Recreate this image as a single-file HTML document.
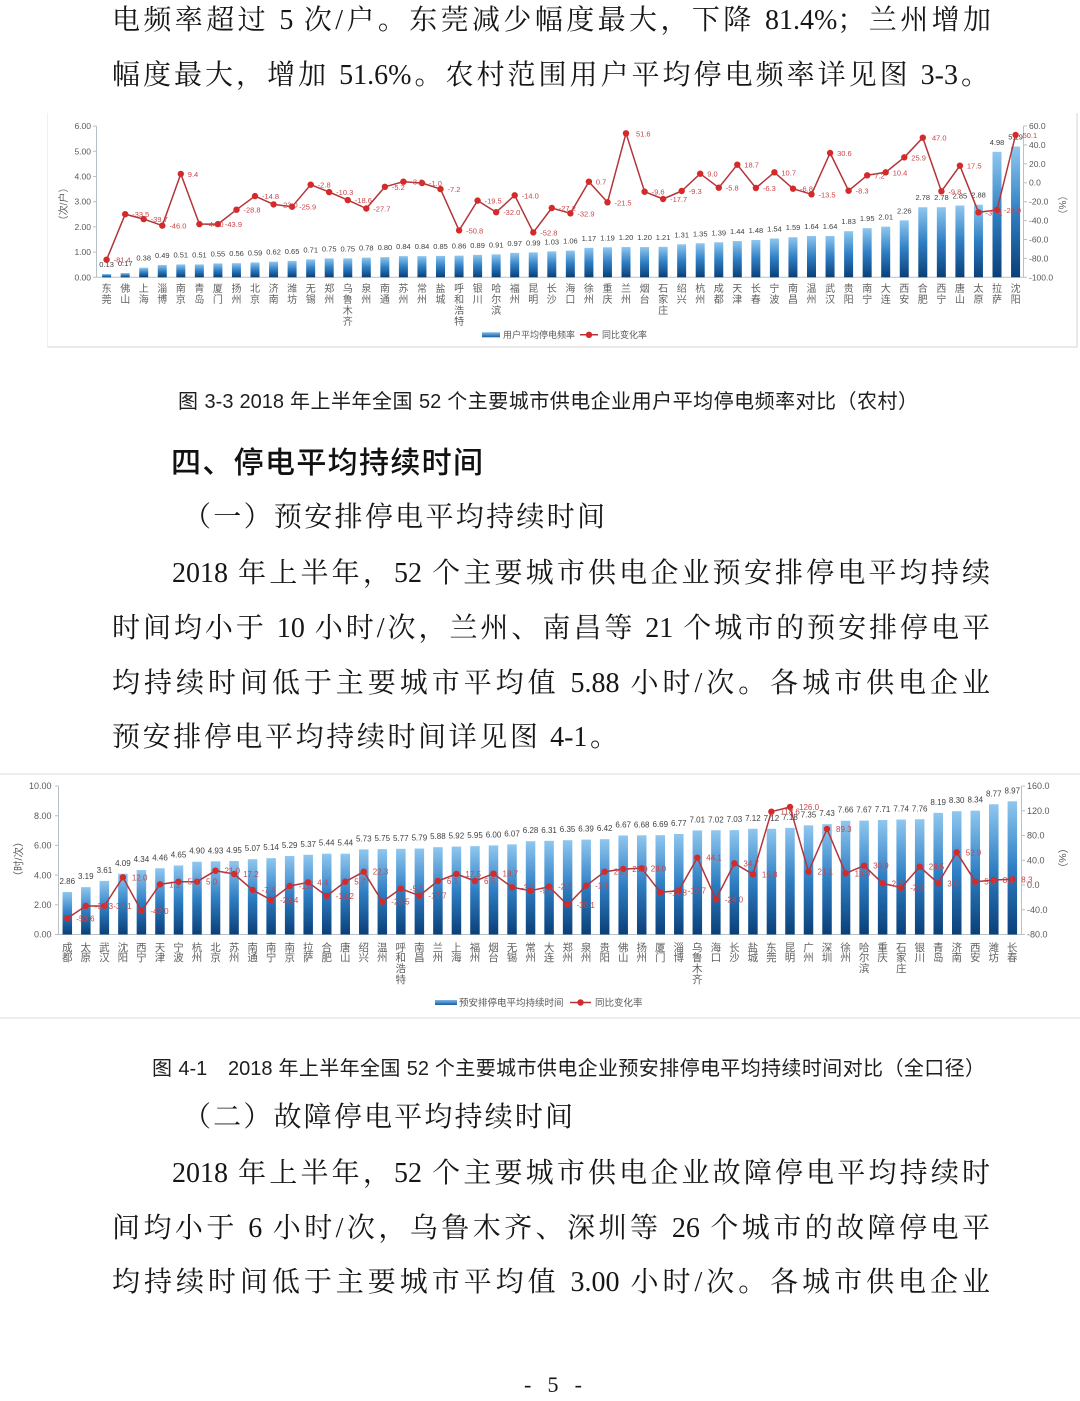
<!DOCTYPE html>
<html lang="zh-CN">
<head>
<meta charset="utf-8">
<style>
html,body{margin:0;padding:0;background:#fff;}
body{width:1080px;height:1401px;position:relative;overflow:hidden;}
.b{position:absolute;font-family:"Liberation Serif","Noto Serif CJK SC",serif;font-size:28px;line-height:28px;color:#161616;text-align:justify;text-align-last:justify;}
.cap{position:absolute;font-family:"Liberation Sans","Noto Sans CJK SC",sans-serif;font-size:20px;line-height:20px;color:#1e1e1e;text-align:justify;text-align-last:justify;}
.h{position:absolute;font-family:"Liberation Sans","Noto Sans CJK SC",sans-serif;font-size:30px;line-height:30px;font-weight:500;color:#111;text-align:justify;text-align-last:justify;}
.k1,.k2{position:absolute;width:12px;text-align:center;word-break:break-all;font-family:"Noto Sans CJK SC",sans-serif;color:#606060;}
.k1{top:281.5px;font-size:10px;line-height:11px;}
.k2{top:942.5px;font-size:10.5px;line-height:10.8px;}
svg{position:absolute;left:0;top:0;}
</style>
</head>
<body>

<div class="b" style="top:7px;left:112px;width:879px">电频率超过 5 次/户。东莞减少幅度最大，下降 81.4%；兰州增加</div>
<div class="b" style="top:62px;left:112px;width:877px">幅度最大，增加 51.6%。农村范围用户平均停电频率详见图 3-3。</div>

<div class="cap" style="top:391.7px;left:178px;width:740px">图 3-3 2018 年上半年全国 52 个主要城市供电企业用户平均停电频率对比（农村）</div>
<div class="h" style="top:449px;left:171px;width:312px">四、停电平均持续时间</div>
<div class="b" style="top:504px;left:183px;width:422px">（一）预安排停电平均持续时间</div>
<div class="b" style="top:560px;left:172px;width:818px">2018 年上半年，52 个主要城市供电企业预安排停电平均持续</div>
<div class="b" style="top:615px;left:112px;width:878px">时间均小于 10 小时/次，兰州、南昌等 21 个城市的预安排停电平</div>
<div class="b" style="top:670px;left:112px;width:878px">均持续时间低于主要城市平均值 5.88 小时/次。各城市供电企业</div>
<div class="b" style="top:724px;left:112px;width:506px">预安排停电平均持续时间详见图 4-1。</div>

<div class="cap" style="top:1058.7px;left:152px;width:833px">图 4-1　2018 年上半年全国 52 个主要城市供电企业预安排停电平均持续时间对比（全口径）</div>
<div class="b" style="top:1104px;left:183px;width:390px">（二）故障停电平均持续时间</div>
<div class="b" style="top:1160px;left:172px;width:818px">2018 年上半年，52 个主要城市供电企业故障停电平均持续时</div>
<div class="b" style="top:1215px;left:112px;width:878px">间均小于 6 小时/次，乌鲁木齐、深圳等 26 个城市的故障停电平</div>
<div class="b" style="top:1269px;left:112px;width:878px">均持续时间低于主要城市平均值 3.00 小时/次。各城市供电企业</div>
<div class="b" style="top:1374px;left:524px;width:58px;font-size:22px;line-height:22px">- 5 -</div>

<!-- chart 1 category labels -->
<div class="k1" style="left:100.6px">东莞</div><div class="k1" style="left:119.2px">佛山</div><div class="k1" style="left:137.7px">上海</div><div class="k1" style="left:156.3px">淄博</div><div class="k1" style="left:174.8px">南京</div><div class="k1" style="left:193.4px">青岛</div><div class="k1" style="left:211.9px">厦门</div><div class="k1" style="left:230.5px">扬州</div><div class="k1" style="left:249px">北京</div><div class="k1" style="left:267.6px">济南</div><div class="k1" style="left:286.1px">潍坊</div><div class="k1" style="left:304.7px">无锡</div><div class="k1" style="left:323.2px">郑州</div><div class="k1" style="left:341.8px">乌鲁木齐</div><div class="k1" style="left:360.3px">泉州</div><div class="k1" style="left:378.9px">南通</div><div class="k1" style="left:397.4px">苏州</div><div class="k1" style="left:416px">常州</div><div class="k1" style="left:434.5px">盐城</div><div class="k1" style="left:453.1px">呼和浩特</div><div class="k1" style="left:471.6px">银川</div><div class="k1" style="left:490.2px">哈尔滨</div><div class="k1" style="left:508.7px">福州</div><div class="k1" style="left:527.3px">昆明</div><div class="k1" style="left:545.8px">长沙</div><div class="k1" style="left:564.4px">海口</div><div class="k1" style="left:582.9px">徐州</div><div class="k1" style="left:601.5px">重庆</div><div class="k1" style="left:620px">兰州</div><div class="k1" style="left:638.6px">烟台</div><div class="k1" style="left:657.1px">石家庄</div><div class="k1" style="left:675.7px">绍兴</div><div class="k1" style="left:694.2px">杭州</div><div class="k1" style="left:712.8px">成都</div><div class="k1" style="left:731.3px">天津</div><div class="k1" style="left:749.9px">长春</div><div class="k1" style="left:768.4px">宁波</div><div class="k1" style="left:787px">南昌</div><div class="k1" style="left:805.5px">温州</div><div class="k1" style="left:824.1px">武汉</div><div class="k1" style="left:842.6px">贵阳</div><div class="k1" style="left:861.2px">南宁</div><div class="k1" style="left:879.7px">大连</div><div class="k1" style="left:898.3px">西安</div><div class="k1" style="left:916.8px">合肥</div><div class="k1" style="left:935.4px">西宁</div><div class="k1" style="left:953.9px">唐山</div><div class="k1" style="left:972.5px">太原</div><div class="k1" style="left:991px">拉萨</div><div class="k1" style="left:1009.6px">沈阳</div>

<!-- chart 2 category labels -->
<div class="k2" style="left:61.3px">成都</div><div class="k2" style="left:79.8px">太原</div><div class="k2" style="left:98.4px">武汉</div><div class="k2" style="left:116.9px">沈阳</div><div class="k2" style="left:135.4px">西宁</div><div class="k2" style="left:154px">天津</div><div class="k2" style="left:172.5px">宁波</div><div class="k2" style="left:191px">杭州</div><div class="k2" style="left:209.5px">北京</div><div class="k2" style="left:228.1px">苏州</div><div class="k2" style="left:246.6px">南通</div><div class="k2" style="left:265.1px">南宁</div><div class="k2" style="left:283.7px">南京</div><div class="k2" style="left:302.2px">拉萨</div><div class="k2" style="left:320.7px">合肥</div><div class="k2" style="left:339.3px">唐山</div><div class="k2" style="left:357.8px">绍兴</div><div class="k2" style="left:376.3px">温州</div><div class="k2" style="left:394.8px">呼和浩特</div><div class="k2" style="left:413.4px">南昌</div><div class="k2" style="left:431.9px">兰州</div><div class="k2" style="left:450.4px">上海</div><div class="k2" style="left:469px">福州</div><div class="k2" style="left:487.5px">烟台</div><div class="k2" style="left:506px">无锡</div><div class="k2" style="left:524.6px">常州</div><div class="k2" style="left:543.1px">大连</div><div class="k2" style="left:561.6px">郑州</div><div class="k2" style="left:580.1px">泉州</div><div class="k2" style="left:598.7px">贵阳</div><div class="k2" style="left:617.2px">佛山</div><div class="k2" style="left:635.7px">扬州</div><div class="k2" style="left:654.3px">厦门</div><div class="k2" style="left:672.8px">淄博</div><div class="k2" style="left:691.3px">乌鲁木齐</div><div class="k2" style="left:709.9px">海口</div><div class="k2" style="left:728.4px">长沙</div><div class="k2" style="left:746.9px">盐城</div><div class="k2" style="left:765.4px">东莞</div><div class="k2" style="left:784px">昆明</div><div class="k2" style="left:802.5px">广州</div><div class="k2" style="left:821px">深圳</div><div class="k2" style="left:839.6px">徐州</div><div class="k2" style="left:858.1px">哈尔滨</div><div class="k2" style="left:876.6px">重庆</div><div class="k2" style="left:895.2px">石家庄</div><div class="k2" style="left:913.7px">银川</div><div class="k2" style="left:932.2px">青岛</div><div class="k2" style="left:950.7px">济南</div><div class="k2" style="left:969.3px">西安</div><div class="k2" style="left:987.8px">潍坊</div><div class="k2" style="left:1006.3px">长春</div>

<svg width="1080" height="1401" viewBox="0 0 1080 1401" xmlns="http://www.w3.org/2000/svg" font-family="Liberation Sans, Noto Sans CJK SC, sans-serif">
<defs>
<linearGradient id="g1" x1="0" y1="0" x2="0" y2="1">
<stop offset="0" stop-color="#0a3f78"/><stop offset="0.5" stop-color="#2f7fc4"/><stop offset="1" stop-color="#8fc7ef"/>
</linearGradient>
<linearGradient id="g2" x1="0" y1="0" x2="0" y2="1">
<stop offset="0" stop-color="#7db9e8"/><stop offset="1" stop-color="#1b5d9e"/>
</linearGradient>
<marker id="m" markerWidth="8" markerHeight="8" refX="4" refY="4" markerUnits="userSpaceOnUse">
<circle cx="4" cy="4" r="3.2" fill="#d42a2a"/>
</marker>
</defs>

<!-- ================= CHART 1 ================= -->
<g stroke="#e4e4e4" stroke-width="1.5" fill="none">
<line x1="1077" y1="113" x2="1077" y2="347"/>
<line x1="47" y1="347" x2="1077" y2="347"/>
</g>
<g stroke="#f0f0f0" stroke-width="1" fill="none"><line x1="47.5" y1="113" x2="47.5" y2="347"/></g>

<!-- axes -->
<g stroke="#b8c0c8" stroke-width="1" fill="none">
<line x1="96.5" y1="126" x2="96.5" y2="277.3"/>
<line x1="1023.5" y1="126" x2="1023.5" y2="277.3"/>
<line x1="96.5" y1="277.3" x2="1023.5" y2="277.3"/>
<path d="M93 277.3H96.5M93 252.1H96.5M93 226.9H96.5M93 201.7H96.5M93 176.5H96.5M93 151.3H96.5M93 126.1H96.5"/>
<path d="M1023.5 277.3H1027M1023.5 258.4H1027M1023.5 239.5H1027M1023.5 220.6H1027M1023.5 201.7H1027M1023.5 182.7H1027M1023.5 163.8H1027M1023.5 144.9H1027M1023.5 126H1027"/>
</g>
<g font-size="8.5" fill="#595959" text-anchor="end">
<text x="91" y="280.3">0.00</text><text x="91" y="255.1">1.00</text><text x="91" y="229.9">2.00</text><text x="91" y="204.7">3.00</text><text x="91" y="179.5">4.00</text><text x="91" y="154.3">5.00</text><text x="91" y="129.1">6.00</text>
</g>
<g font-size="8.5" fill="#595959" text-anchor="start">
<text x="1029" y="280.3">-100.0</text><text x="1029" y="261.4">-80.0</text><text x="1029" y="242.5">-60.0</text><text x="1029" y="223.6">-40.0</text><text x="1029" y="204.7">-20.0</text><text x="1029" y="185.7">0.0</text><text x="1029" y="166.8">20.0</text><text x="1029" y="147.9">40.0</text><text x="1029" y="129">60.0</text>
</g>
<text transform="translate(67 204) rotate(-90)" text-anchor="middle" font-size="10" fill="#606060">（次/户）</text>
<text transform="translate(1059 205) rotate(90)" text-anchor="middle" font-size="10" fill="#606060">（%）</text>

<!-- bars chart 1 -->
<g transform="translate(0 277.3) scale(1 -25.2)" fill="url(#g1)">
<rect x="102.1" width="9" height="0.13"/><rect x="120.65" width="9" height="0.17"/><rect x="139.2" width="9" height="0.38"/><rect x="157.75" width="9" height="0.49"/><rect x="176.3" width="9" height="0.51"/><rect x="194.85" width="9" height="0.51"/><rect x="213.4" width="9" height="0.55"/><rect x="231.95" width="9" height="0.56"/><rect x="250.5" width="9" height="0.59"/><rect x="269.05" width="9" height="0.62"/><rect x="287.6" width="9" height="0.65"/><rect x="306.15" width="9" height="0.71"/><rect x="324.7" width="9" height="0.75"/><rect x="343.25" width="9" height="0.75"/><rect x="361.8" width="9" height="0.78"/><rect x="380.35" width="9" height="0.80"/><rect x="398.9" width="9" height="0.84"/><rect x="417.45" width="9" height="0.84"/><rect x="436" width="9" height="0.85"/><rect x="454.55" width="9" height="0.86"/><rect x="473.1" width="9" height="0.89"/><rect x="491.65" width="9" height="0.91"/><rect x="510.2" width="9" height="0.97"/><rect x="528.75" width="9" height="0.99"/><rect x="547.3" width="9" height="1.03"/><rect x="565.85" width="9" height="1.06"/><rect x="584.4" width="9" height="1.17"/><rect x="602.95" width="9" height="1.19"/><rect x="621.5" width="9" height="1.20"/><rect x="640.05" width="9" height="1.20"/><rect x="658.6" width="9" height="1.21"/><rect x="677.15" width="9" height="1.31"/><rect x="695.7" width="9" height="1.35"/><rect x="714.25" width="9" height="1.39"/><rect x="732.8" width="9" height="1.44"/><rect x="751.35" width="9" height="1.48"/><rect x="769.9" width="9" height="1.54"/><rect x="788.45" width="9" height="1.59"/><rect x="807" width="9" height="1.64"/><rect x="825.55" width="9" height="1.64"/><rect x="844.1" width="9" height="1.83"/><rect x="862.65" width="9" height="1.95"/><rect x="881.2" width="9" height="2.01"/><rect x="899.75" width="9" height="2.26"/><rect x="918.3" width="9" height="2.78"/><rect x="936.85" width="9" height="2.78"/><rect x="955.4" width="9" height="2.85"/><rect x="973.95" width="9" height="2.88"/><rect x="992.5" width="9" height="4.98"/><rect x="1011.05" width="9" height="5.19"/>
</g>
<g font-size="7.5" fill="#404040" text-anchor="middle">
<text x="106.6" y="267">0.13</text><text x="125.2" y="266">0.17</text><text x="143.7" y="260.7">0.38</text><text x="162.3" y="258">0.49</text><text x="180.8" y="257.5">0.51</text><text x="199.4" y="257.5">0.51</text><text x="217.9" y="256.4">0.55</text><text x="236.5" y="256.2">0.56</text><text x="255" y="255.4">0.59</text><text x="273.6" y="254.7">0.62</text><text x="292.1" y="253.9">0.65</text><text x="310.7" y="252.4">0.71</text><text x="329.2" y="251.4">0.75</text><text x="347.8" y="251.4">0.75</text><text x="366.3" y="250.6">0.78</text><text x="384.9" y="250.1">0.80</text><text x="403.4" y="249.1">0.84</text><text x="422" y="249.1">0.84</text><text x="440.5" y="248.9">0.85</text><text x="459.1" y="248.6">0.86</text><text x="477.6" y="247.9">0.89</text><text x="496.2" y="247.4">0.91</text><text x="514.7" y="245.9">0.97</text><text x="533.3" y="245.4">0.99</text><text x="551.8" y="244.3">1.03</text><text x="570.4" y="243.6">1.06</text><text x="588.9" y="240.8">1.17</text><text x="607.5" y="240.3">1.19</text><text x="626" y="240.1">1.20</text><text x="644.6" y="240.1">1.20</text><text x="663.1" y="239.8">1.21</text><text x="681.7" y="237.3">1.31</text><text x="700.2" y="236.3">1.35</text><text x="718.8" y="235.3">1.39</text><text x="737.3" y="234">1.44</text><text x="755.9" y="233">1.48</text><text x="774.4" y="231.5">1.54</text><text x="793" y="230.2">1.59</text><text x="811.5" y="229">1.64</text><text x="830.1" y="229">1.64</text><text x="848.6" y="224.2">1.83</text><text x="867.2" y="221.2">1.95</text><text x="885.7" y="219.7">2.01</text><text x="904.3" y="213.4">2.26</text><text x="922.8" y="200.2">2.78</text><text x="941.4" y="200.2">2.78</text><text x="959.9" y="198.5">2.85</text><text x="978.5" y="197.7">2.88</text><text x="997" y="144.8">4.98</text><text x="1015.6" y="139.5">5.19</text>
</g>
<polyline fill="none" stroke="#b3343a" stroke-width="1.5" stroke-linejoin="round" marker-start="url(#m)" marker-mid="url(#m)" marker-end="url(#m)" points="106.6,259.7 125.2,214.2 143.7,219.1 162.3,225.6 180.8,173.9 199.4,224.1 217.9,224.1 236.5,209.7 255,196.1 273.6,204.4 292.1,206.7 310.7,184.7 329.2,192.1 347.8,200.1 366.3,208.5 384.9,186.8 403.4,181.7 422,183 440.5,189.1 459.1,230.4 477.6,200.6 496.2,212.2 514.7,195.3 533.3,232.4 551.8,208 570.4,213.3 588.9,181.7 607.5,202.3 626,133.3 644.6,191.7 663.1,199 681.7,191 700.2,173.7 718.8,187.7 737.3,164.7 755.9,188 774.4,172.3 793,188.7 811.5,194.3 830.1,153 848.6,190.7 867.2,175.3 885.7,172.3 904.3,157.3 922.8,137.7 941.4,191.3 959.9,165.7 978.5,212.3 997,210 1015.6,135"/>
<g font-size="7.5" fill="#c8454a" text-anchor="start">
<text x="113.6" y="262.7">-81.4</text><text x="132.2" y="217.2">-33.5</text><text x="150.7" y="222.1">-39.7</text><text x="169.3" y="228.6">-46.0</text><text x="187.8" y="176.9">9.4</text><text x="206.4" y="227.1">-44.0</text><text x="224.9" y="227.1">-43.9</text><text x="243.5" y="212.7">-28.8</text><text x="262" y="199.1">-14.8</text><text x="280.6" y="207.4">-23.0</text><text x="299.1" y="209.7">-25.9</text><text x="317.7" y="187.7">-2.8</text><text x="336.2" y="195.1">-10.3</text><text x="354.8" y="203.1">-18.6</text><text x="373.3" y="211.5">-27.7</text><text x="391.9" y="189.8">-5.2</text><text x="410.4" y="184.7">-3.0</text><text x="429" y="186">-1.0</text><text x="447.5" y="192.1">-7.2</text><text x="466.1" y="233.4">-50.8</text><text x="484.6" y="203.6">-19.5</text><text x="503.2" y="215.2">-32.0</text><text x="521.7" y="198.3">-14.0</text><text x="540.3" y="235.4">-52.8</text><text x="558.8" y="211">-27.2</text><text x="577.4" y="216.3">-32.9</text><text x="595.9" y="184.7">0.7</text><text x="614.5" y="205.3">-21.5</text><text x="636" y="136.3">51.6</text><text x="651.6" y="194.7">-9.6</text><text x="670.1" y="202">-17.7</text><text x="688.7" y="194">-9.3</text><text x="707.2" y="176.7">9.0</text><text x="725.8" y="190.7">-5.8</text><text x="744.3" y="167.7">18.7</text><text x="762.9" y="191">-6.3</text><text x="781.4" y="175.3">10.7</text><text x="800" y="191.7">-6.8</text><text x="818.5" y="197.3">-13.5</text><text x="837.1" y="156">30.6</text><text x="855.6" y="193.7">-8.3</text><text x="874.2" y="178.3">7.2</text><text x="892.7" y="175.3">10.4</text><text x="911.3" y="160.3">25.9</text><text x="932" y="140.7">47.0</text><text x="948.4" y="194.3">-9.8</text><text x="966.9" y="168.7">17.5</text><text x="985.5" y="215.3">-32.1</text><text x="1004" y="213">-28.9</text><text x="1022.6" y="138">50.1</text>
</g>
<!-- legend chart 1 -->
<rect x="482" y="332.3" width="18" height="5" fill="url(#g2)"/>
<text x="503" y="338" font-size="9" fill="#595959">用户平均停电频率</text>
<polyline fill="none" stroke="#b3343a" stroke-width="1.5" marker-mid="url(#m)" points="580,334.8 589,334.8 598,334.8"/>
<text x="602" y="338" font-size="9" fill="#595959">同比变化率</text>

<!-- ================= CHART 2 ================= -->
<g stroke="#e8e8e8" stroke-width="1.5" fill="none">
<line x1="0" y1="774" x2="1080" y2="774"/>
<line x1="0" y1="1018" x2="1080" y2="1018"/>
</g>
<g stroke="#b8c0c8" stroke-width="1" fill="none">
<line x1="58.5" y1="786" x2="58.5" y2="934.5"/>
<line x1="1021.5" y1="786" x2="1021.5" y2="934.5"/>
<line x1="58.5" y1="934.5" x2="1021.5" y2="934.5"/>
<path d="M55 934.5H58.5M55 904.8H58.5M55 875.1H58.5M55 845.4H58.5M55 815.7H58.5M55 786H58.5"/>
<path d="M1021.5 934.5H1025M1021.5 909.75H1025M1021.5 885H1025M1021.5 860.25H1025M1021.5 835.5H1025M1021.5 810.75H1025M1021.5 786H1025"/>
</g>
<g font-size="9" fill="#595959" text-anchor="end">
<text x="51.5" y="937.7">0.00</text><text x="51.5" y="908">2.00</text><text x="51.5" y="878.3">4.00</text><text x="51.5" y="848.6">6.00</text><text x="51.5" y="818.9">8.00</text><text x="51.5" y="789.2">10.00</text>
</g>
<g font-size="9" fill="#595959" text-anchor="start">
<text x="1027" y="937.7">-80.0</text><text x="1027" y="913">-40.0</text><text x="1027" y="888.2">0.0</text><text x="1027" y="863.5">40.0</text><text x="1027" y="838.7">80.0</text><text x="1027" y="814">120.0</text><text x="1027" y="789.2">160.0</text>
</g>
<text transform="translate(22 859) rotate(-90)" text-anchor="middle" font-size="10.5" fill="#606060">（时/次）</text>
<text transform="translate(1059 858) rotate(90)" text-anchor="middle" font-size="10.5" fill="#606060">（%）</text>

<g transform="translate(0 934.5) scale(1 -14.85)" fill="url(#g1)">
<rect x="62.55" width="9.5" height="2.86"/><rect x="81.08" width="9.5" height="3.19"/><rect x="99.61" width="9.5" height="3.61"/><rect x="118.14" width="9.5" height="4.09"/><rect x="136.67" width="9.5" height="4.34"/><rect x="155.2" width="9.5" height="4.46"/><rect x="173.73" width="9.5" height="4.65"/><rect x="192.26" width="9.5" height="4.90"/><rect x="210.79" width="9.5" height="4.93"/><rect x="229.32" width="9.5" height="4.95"/><rect x="247.85" width="9.5" height="5.07"/><rect x="266.38" width="9.5" height="5.14"/><rect x="284.91" width="9.5" height="5.29"/><rect x="303.44" width="9.5" height="5.37"/><rect x="321.97" width="9.5" height="5.44"/><rect x="340.5" width="9.5" height="5.44"/><rect x="359.03" width="9.5" height="5.73"/><rect x="377.56" width="9.5" height="5.75"/><rect x="396.09" width="9.5" height="5.77"/><rect x="414.62" width="9.5" height="5.79"/><rect x="433.15" width="9.5" height="5.88"/><rect x="451.68" width="9.5" height="5.92"/><rect x="470.21" width="9.5" height="5.95"/><rect x="488.74" width="9.5" height="6.00"/><rect x="507.27" width="9.5" height="6.07"/><rect x="525.8" width="9.5" height="6.28"/><rect x="544.33" width="9.5" height="6.31"/><rect x="562.86" width="9.5" height="6.35"/><rect x="581.39" width="9.5" height="6.39"/><rect x="599.92" width="9.5" height="6.42"/><rect x="618.45" width="9.5" height="6.67"/><rect x="636.98" width="9.5" height="6.68"/><rect x="655.51" width="9.5" height="6.69"/><rect x="674.04" width="9.5" height="6.77"/><rect x="692.57" width="9.5" height="7.01"/><rect x="711.1" width="9.5" height="7.02"/><rect x="729.63" width="9.5" height="7.03"/><rect x="748.16" width="9.5" height="7.12"/><rect x="766.69" width="9.5" height="7.12"/><rect x="785.22" width="9.5" height="7.18"/><rect x="803.75" width="9.5" height="7.35"/><rect x="822.28" width="9.5" height="7.43"/><rect x="840.81" width="9.5" height="7.66"/><rect x="859.34" width="9.5" height="7.67"/><rect x="877.87" width="9.5" height="7.71"/><rect x="896.4" width="9.5" height="7.74"/><rect x="914.93" width="9.5" height="7.76"/><rect x="933.46" width="9.5" height="8.19"/><rect x="951.99" width="9.5" height="8.30"/><rect x="970.52" width="9.5" height="8.34"/><rect x="989.05" width="9.5" height="8.77"/><rect x="1007.58" width="9.5" height="8.97"/>
</g>
<g font-size="8" fill="#404040" text-anchor="middle">
<text x="67.3" y="884">2.86</text><text x="85.8" y="879.1">3.19</text><text x="104.4" y="872.9">3.61</text><text x="122.9" y="865.8">4.09</text><text x="141.4" y="862.1">4.34</text><text x="160" y="860.3">4.46</text><text x="178.5" y="857.4">4.65</text><text x="197" y="853.7">4.90</text><text x="215.5" y="853.3">4.93</text><text x="234.1" y="853">4.95</text><text x="252.6" y="851.2">5.07</text><text x="271.1" y="850.2">5.14</text><text x="289.7" y="847.9">5.29</text><text x="308.2" y="846.8">5.37</text><text x="326.7" y="845.7">5.44</text><text x="345.3" y="845.7">5.44</text><text x="363.8" y="841.4">5.73</text><text x="382.3" y="841.1">5.75</text><text x="400.8" y="840.8">5.77</text><text x="419.4" y="840.5">5.79</text><text x="437.9" y="839.2">5.88</text><text x="456.4" y="838.6">5.92</text><text x="475" y="838.1">5.95</text><text x="493.5" y="837.4">6.00</text><text x="512" y="836.4">6.07</text><text x="530.6" y="833.2">6.28</text><text x="549.1" y="832.8">6.31</text><text x="567.6" y="832.2">6.35</text><text x="586.1" y="831.6">6.39</text><text x="604.7" y="831.2">6.42</text><text x="623.2" y="827.5">6.67</text><text x="641.7" y="827.3">6.68</text><text x="660.3" y="827.2">6.69</text><text x="678.8" y="826">6.77</text><text x="697.3" y="822.4">7.01</text><text x="715.9" y="822.3">7.02</text><text x="734.4" y="822.1">7.03</text><text x="752.9" y="820.8">7.12</text><text x="771.4" y="820.8">7.12</text><text x="790" y="819.9">7.18</text><text x="808.5" y="817.4">7.35</text><text x="827" y="816.2">7.43</text><text x="845.6" y="812.7">7.66</text><text x="864.1" y="812.6">7.67</text><text x="882.6" y="812">7.71</text><text x="901.2" y="811.6">7.74</text><text x="919.7" y="811.3">7.76</text><text x="938.2" y="804.9">8.19</text><text x="956.7" y="803.2">8.30</text><text x="975.3" y="802.7">8.34</text><text x="993.8" y="796.3">8.77</text><text x="1012.3" y="793.3">8.97</text>
</g>
<polyline fill="none" stroke="#b3343a" stroke-width="1.5" stroke-linejoin="round" marker-start="url(#m)" marker-mid="url(#m)" marker-end="url(#m)" points="67.3,918.3 85.8,906 104.4,906 122.9,877.3 141.4,911 160,884.3 178.5,881.7 197,881.7 215.5,870.7 234.1,874 252.6,890 271.1,900 289.7,886 308.2,882.3 326.7,896 345.3,881.7 363.8,871.7 382.3,901.7 400.8,888.7 419.4,895.7 437.9,881 456.4,874 475,881 493.5,873.7 512,887.3 530.6,890.7 549.1,886.7 567.6,905 586.1,885.7 604.7,871.7 623.2,869 641.7,868.3 660.3,892.3 678.8,890.7 697.3,857.7 715.9,899.3 734.4,863.3 752.9,874.3 771.4,811.7 790,807 808.5,871.7 827,829 845.6,873.3 864.1,865.7 882.6,883.3 901.2,887.7 919.7,866.7 938.2,883.3 956.7,852.3 975.3,881.7 993.8,880 1012.3,879.3"/>
<g font-size="8" fill="#c8454a" text-anchor="start">
<text x="76.3" y="921.3">-53.6</text><text x="94.8" y="909">-33.3</text><text x="113.4" y="909">-34.1</text><text x="131.9" y="880.3">12.0</text><text x="150.4" y="914">-42.0</text><text x="169" y="887.3">1.1</text><text x="187.5" y="884.7">5.3</text><text x="206" y="884.7">5.0</text><text x="224.5" y="873.7">21.0</text><text x="243.1" y="877">17.2</text><text x="261.6" y="893">-7.4</text><text x="280.1" y="903">-24.4</text><text x="298.7" y="889">-1.6</text><text x="317.2" y="885.3">4.4</text><text x="335.7" y="899">-18.2</text><text x="354.3" y="884.7">5.7</text><text x="372.8" y="874.7">22.3</text><text x="391.3" y="904.7">-26.5</text><text x="409.8" y="891.7">-5.1</text><text x="428.4" y="898.7">-17.7</text><text x="446.9" y="884">6.1</text><text x="465.4" y="877">17.5</text><text x="484" y="884">6.5</text><text x="502.5" y="876.7">18.7</text><text x="521" y="890.3">-3.7</text><text x="539.6" y="893.7">-9.2</text><text x="558.1" y="889.7">-2.7</text><text x="576.6" y="908">-30.1</text><text x="595.1" y="888.7">-1.1</text><text x="613.7" y="874.7">20.7</text><text x="632.2" y="872">25.9</text><text x="650.7" y="871.3">28.0</text><text x="669.3" y="895.3">-11.8</text><text x="687.8" y="893.7">-12.7</text><text x="706.3" y="860.7">44.1</text><text x="724.9" y="902.3">-24.0</text><text x="743.4" y="866.3">34.7</text><text x="761.9" y="877.3">15.8</text><text x="780.4" y="814.7">118.6</text><text x="799" y="810">126.0</text><text x="817.5" y="874.7">21.1</text><text x="836" y="832">89.3</text><text x="854.6" y="876.3">18.9</text><text x="873.1" y="868.7">30.9</text><text x="891.6" y="886.3">2.7</text><text x="910.2" y="890.7">-2.3</text><text x="928.7" y="869.7">29.5</text><text x="947.2" y="886.3">3.0</text><text x="965.7" y="855.3">52.9</text><text x="984.3" y="884.7">5.3</text><text x="1002.8" y="883">8.1</text><text x="1021.3" y="882.3">8.3</text>
</g>
<!-- legend chart 2 -->
<rect x="435" y="1000" width="22" height="5" fill="url(#g2)"/>
<text x="459" y="1006" font-size="9.5" fill="#595959">预安排停电平均持续时间</text>
<polyline fill="none" stroke="#b3343a" stroke-width="1.5" marker-mid="url(#m)" points="570,1002.5 580.5,1002.5 591,1002.5"/>
<text x="595" y="1006" font-size="9.5" fill="#595959">同比变化率</text>
</svg>
</body>
</html>
